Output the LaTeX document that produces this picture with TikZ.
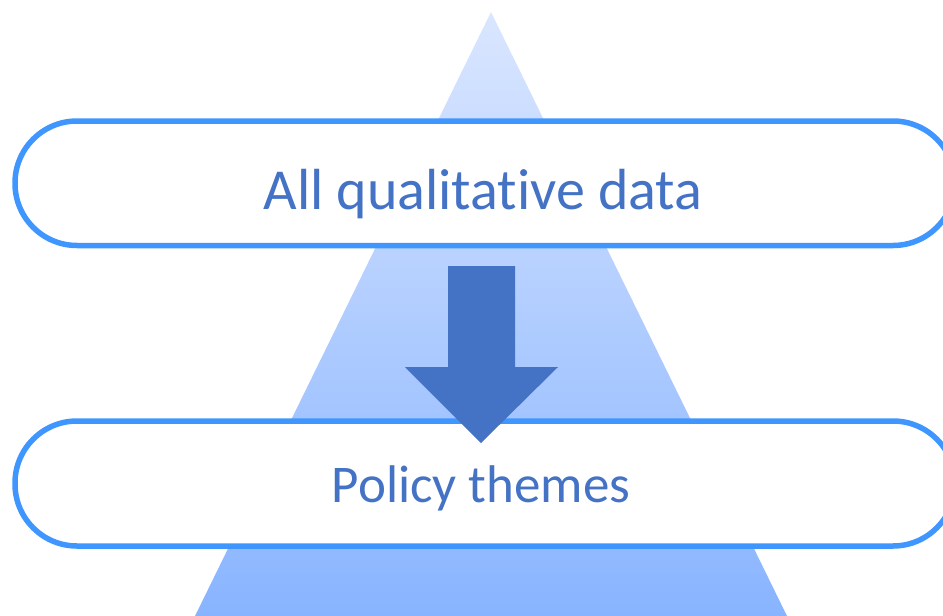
\documentclass[tikz,border=0pt]{standalone}
\usepackage{fontspec}
\setmainfont[Ligatures=NoCommon]{Carlito}
\definecolor{pillblue}{RGB}{64,150,255}
\definecolor{textblue}{RGB}{68,114,196}
\definecolor{tritop}{RGB}{218,230,255}
\definecolor{tribot}{RGB}{136,180,255}
\begin{document}
\begin{tikzpicture}[x=1pt,y=-1pt,
  pill/.style={draw=pillblue,line width=5.5pt,fill=white,rounded corners=62pt},
  lbl/.style={text=textblue,anchor=base,inner sep=0pt}]
\useasboundingbox (0,0) rectangle (943,616);
\clip (0,0) rectangle (943,616);
\shade[top color=tritop,bottom color=tribot] (491,12) -- (787,616) -- (195,616) -- cycle;
\draw[pill] (15,121) rectangle (955,245.5);
\draw[pill] (15,421) rectangle (955,546);
\node[lbl,font=\fontsize{58}{60}\selectfont] (top) at (483,209) {All qualitative data};
\node[lbl,font=\fontsize{53}{56}\selectfont] (bot) at (481,502) {Policy themes};
\fill[textblue] (448,266) -- (515,266) -- (515,367) -- (558,367) -- (481,443) -- (405,367) -- (448,367) -- cycle;
\end{tikzpicture}
\end{document}
